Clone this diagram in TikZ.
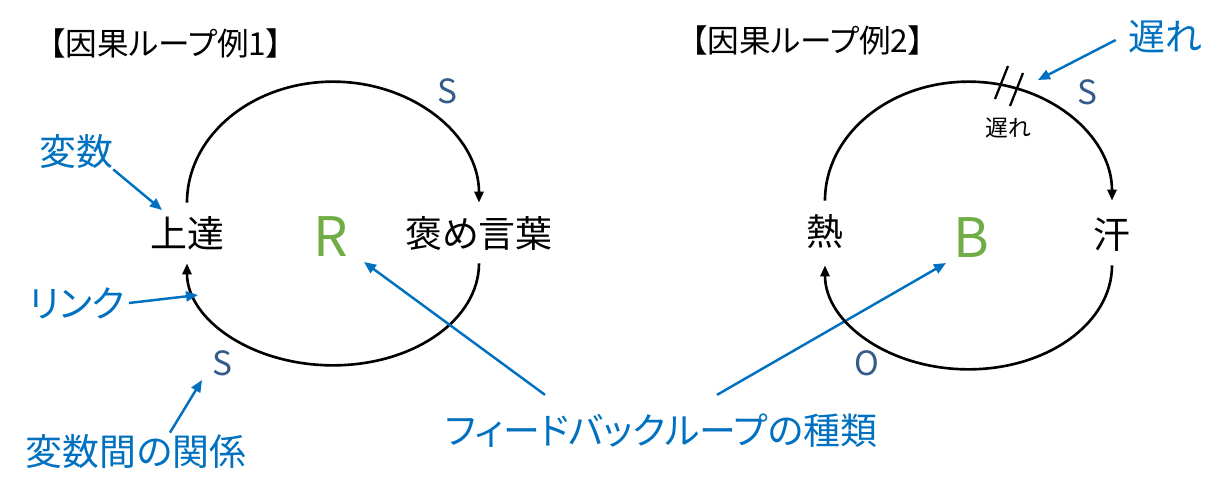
\documentclass[tikz,border=0pt]{standalone}
\usepackage{fontspec}
\setmainfont{Noto Sans CJK JP}[RawFeature=+palt]
\usetikzlibrary{arrows.meta}
\definecolor{linkblue}{HTML}{0070C0}
\definecolor{loopgreen}{HTML}{70AD47}
\definecolor{signblue}{HTML}{335C8A}
\begin{document}
\begin{tikzpicture}[x=0.02cm,y=0.02cm,
var/.style={inner sep=0,minimum height=1.2cm,font=\fontsize{21}{25}\selectfont},
note/.style={text=linkblue,inner sep=0,font=\fontsize{21}{25}\selectfont},
sign/.style={text=signblue,inner sep=0,font=\fontsize{19}{22}\selectfont},
kind/.style={text=loopgreen,inner sep=0,font=\fontsize{31}{36}\selectfont},
heading/.style={inner sep=0,font=\fontsize{18}{21}\selectfont},
link/.style={line width=1.5pt,-{Triangle[length=2.2mm,width=1.8mm]}},
pointer/.style={linkblue,line width=1.4pt,-{Triangle[length=2.4mm,width=2mm]}}]
\useasboundingbox(0,0)rectangle(1225,-494);
\node[heading](title1)at(166,-43){【因果ループ例1】};
\node[heading](title2)at(808,-40){【因果ループ例2】};
\node[var](jotatsu)at(187,-233){上達};
\node[var](homekotoba)at(479,-233){褒め言葉};
\node[kind](R)at(331,-237){R};
\node[sign](s1)at(447,-91){S};
\node[sign](s2)at(222,-363){S};
\draw[link](jotatsu.north)arc[start angle=180,end angle=0,x radius=146,y radius=121];
\draw[link](homekotoba.south)arc[start angle=0,end angle=-180,x radius=146,y radius=102];
\node[note](hensu)at(76,-152){変数};
\coordinate(hensutip)at(162,-210);
\draw[pointer](hensu.south east)--(hensutip);
\node[note](rinku)at(77,-303){リンク};
\coordinate(rinkutip)at(198,-295);
\draw[pointer]([xshift=2pt]rinku.east)--(rinkutip);
\node[note](kankei)at(136,-452){変数間の関係};
\coordinate(kankeitip)at(202,-380);
\draw[pointer]([shift={(34,2)}]kankei.north)--(kankeitip);
\node[note](fb)at(661,-431){フィードバックループの種類};
\coordinate(rtip)at(364,-262);
\coordinate(btip)at(946,-263);
\draw[pointer]([shift={(-116,19)}]fb.north)--(rtip);
\draw[pointer]([shift={(56,19)}]fb.north)--(btip);
\begin{scope}
\node[var](netsu)at(825,-231){熱};
\node[var](ase)at(1112,-235){汗};
\node[kind](B)at(971,-238){B};
\node[sign](s3)at(1087,-92){S};
\node[sign](o)at(867,-363){O};
\draw[link](netsu.north)arc[start angle=180,end angle=0,x radius=143.5,y radius=119];
\draw[link](ase.south)arc[start angle=0,end angle=-180,x radius=143.5,y radius=104];
\draw[line width=1.3pt](1008,-66)--(995,-99)(1023,-73)--(1010,-106);
\node[inner sep=0,font=\fontsize{13}{15}\selectfont](delay)at(1008,-128){遅れ};
\node[note](okure)at(1165,-37){遅れ};
\coordinate(okuretip)at(1038,-80);
\draw[pointer]([shift={(-12,-3)}]okure.west)--(okuretip);
\end{scope}
\end{tikzpicture}
\end{document}
